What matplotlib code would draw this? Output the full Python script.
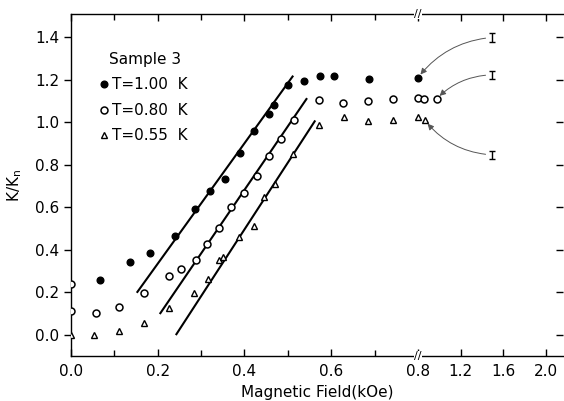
import numpy as np
import matplotlib.pyplot as plt
from matplotlib.transforms import blended_transform_factory

# thermal conductivity ratio K/Kn vs field, sample 3
h_100 = [0.066, 0.136, 0.182, 0.240, 0.287, 0.320, 0.355, 0.389, 0.423, 0.456,
         0.469, 0.501, 0.538, 0.574, 0.607, 0.687, 0.80]
k_100 = [0.26, 0.345, 0.385, 0.465, 0.59, 0.678, 0.733, 0.856, 0.958, 1.04,
         1.08, 1.177, 1.197, 1.216, 1.216, 1.204, 1.21]

h_080 = [0.0, 0.0, 0.057, 0.111, 0.168, 0.225, 0.254, 0.289, 0.313, 0.341,
         0.369, 0.398, 0.428, 0.456, 0.485, 0.515, 0.571, 0.628, 0.685, 0.743,
         0.80, 0.853, 0.975]
k_080 = [0.238, 0.11, 0.102, 0.132, 0.199, 0.277, 0.308, 0.351, 0.426, 0.504,
         0.603, 0.668, 0.75, 0.84, 0.923, 1.01, 1.107, 1.09, 1.099, 1.108,
         1.113, 1.11, 1.111]

h_055 = [0.0, 0.054, 0.11, 0.168, 0.226, 0.283, 0.317, 0.341, 0.35, 0.387,
         0.423, 0.444, 0.47, 0.513, 0.571, 0.63, 0.686, 0.743, 0.80, 0.866]
k_055 = [0.0, 0.0, 0.017, 0.058, 0.127, 0.199, 0.265, 0.352, 0.368, 0.46,
         0.512, 0.65, 0.711, 0.852, 0.989, 1.025, 1.005, 1.013, 1.025, 1.009]

# straight-line fits through the linear region
fit_h0 = [0.153, 0.206, 0.243]
fit_h1 = [0.511, 0.543, 0.562]
fit_k0 = [0.202, 0.102, 0.003]
fit_k1 = [1.216, 1.110, 1.005]

# high field values with error bars, pointing back to the last points
hi_h = [1.5, 1.5, 1.5]
hi_k = [1.40, 1.224, 0.847]
hi_err = 0.02
hi_target_h = [0.80, 0.975, 0.866]
hi_target_k = [1.21, 1.111, 1.009]
hi_rad = [0.22, 0.2, -0.22]

labels = ['T=1.00  K', 'T=0.80  K', 'T=0.55  K']
xticks = [0.0, 0.2, 0.4, 0.6, 0.8, 1.2, 1.6, 2.0]
xminor = [0.1, 0.3, 0.5, 0.7]
yticks = [0.0, 0.2, 0.4, 0.6, 0.8, 1.0, 1.2, 1.4]

# axis squeezed above 0.8 kOe
brk = 0.8
r = 107.0 / 435.0

def fwd(x):
    x = np.asarray(x, dtype=float)
    return np.where(x <= brk, x, brk + (x - brk) * r)

def inv(y):
    y = np.asarray(y, dtype=float)
    return np.where(y <= brk, y, brk + (y - brk) / r)

plt.rcParams['font.family'] = 'DejaVu Sans'
fig = plt.figure(figsize=(5.64, 4.01), dpi=100)
ax = fig.add_axes([0.126, 0.112, 0.872, 0.853])
ax.set_xscale('function', functions=(fwd, inv))
ax.set_xlim(0.0, 2.16)
ax.set_ylim(-0.1, 1.51)

ax.plot(h_100, k_100, 'o', color='k', ms=4.8, label=labels[0], zorder=3)
ax.plot(h_080, k_080, 'o', mfc='white', mec='k', mew=1.1, ms=5, label=labels[1], zorder=3)
ax.plot(h_055, k_055, '^', mfc='white', mec='k', mew=1.0, ms=4.5, label=labels[2], zorder=3)

for a, b, c, d in zip(fit_h0, fit_h1, fit_k0, fit_k1):
    ax.plot([a, b], [c, d], color='k', lw=1.5, zorder=2)

ax.errorbar(hi_h, hi_k, yerr=hi_err, fmt='none', ecolor='k', elinewidth=1.0,
            capsize=2.5, capthick=1.0)
for hx, hy, tx, ty, rad in zip(hi_h, hi_k, hi_target_h, hi_target_k, hi_rad):
    ax.annotate('', xy=(tx, ty), xytext=(hx, hy),
                arrowprops=dict(arrowstyle='-|>', color='#555555', lw=0.7,
                                mutation_scale=9, shrinkA=5, shrinkB=3,
                                connectionstyle='arc3,rad=%s' % rad))

ax.set_xticks(xticks)
ax.set_xticklabels(['%.1f' % t for t in xticks])
ax.set_xticks(xminor, minor=True)
ax.set_yticks(yticks)
ax.set_yticklabels(['%.1f' % t for t in yticks])

ax.spines['right'].set_visible(False)
for s in ['left', 'bottom', 'top']:
    ax.spines[s].set_linewidth(1.0)
ax.tick_params(axis='x', which='both', direction='in', top=True, labelsize=11,
               length=5, width=1.0, pad=6)
ax.tick_params(axis='x', which='minor', length=4)
ax.tick_params(axis='y', direction='out', right=True, labelsize=11,
               length=5, width=1.0)
for t in ax.yaxis.get_ticklines()[1::2]:
    t.set_marker(0)  # right-side dashes pointing inward

# break marks on the top and bottom axes
tr = blended_transform_factory(ax.transData, ax.transAxes)
for yy in [0, 1]:
    ax.text(brk, yy, '//', transform=tr, ha='center', va='center', fontsize=8,
            bbox=dict(facecolor='white', edgecolor='none', pad=0.3),
            clip_on=False, zorder=5)

ax.set_xlabel('Magnetic Field(kOe)', fontsize=11, labelpad=4)
ax.set_ylabel('K/K$_\\mathregular{n}$', fontsize=11, labelpad=8)

ax.legend(title='Sample 3', loc='upper left', bbox_to_anchor=(0.04, 0.92),
          frameon=False, fontsize=11, title_fontsize=11, handlelength=0.4,
          handletextpad=0.3, labelspacing=0.68, borderpad=0.2)

fig.savefig('out.png', dpi=100)
